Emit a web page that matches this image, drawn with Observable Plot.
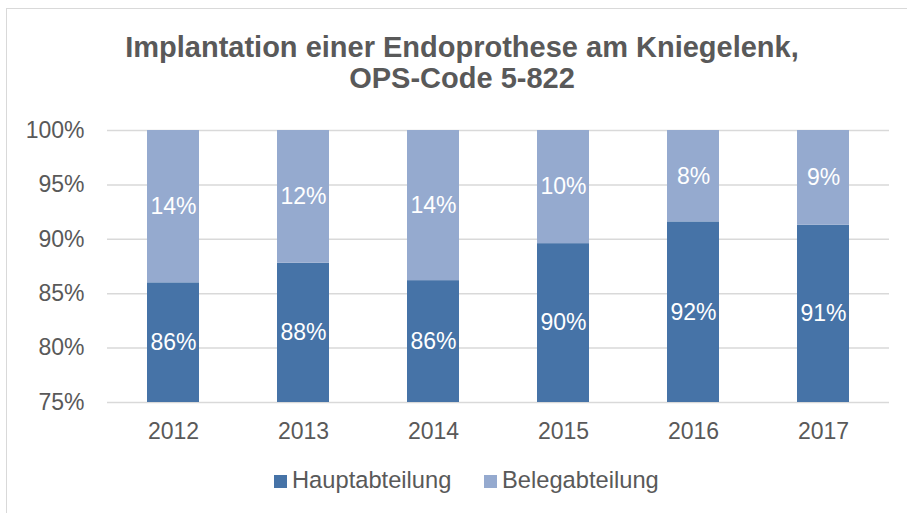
<!DOCTYPE html>
<html>
<head>
<meta charset="utf-8">
<script src="https://cdn.jsdelivr.net/npm/d3@7"></script>
<script src="https://cdn.jsdelivr.net/npm/@observablehq/plot@0.6"></script>
<style>
  html, body { margin: 0; padding: 0; background: #fff; overflow: hidden; }
  #wrap { position: relative; width: 907px; height: 513px; font-family: "Liberation Sans", Arial, sans-serif; }
  #frame { position: absolute; left: 6px; top: 8px; width: 920px; height: 520px; border-left: 1.5px solid #d9d9d9; border-top: 1.5px solid #d9d9d9; box-sizing: border-box; }
  #title { position: absolute; left: 16px; width: 892px; top: 32px; text-align: center; font-weight: bold; font-size: 29px; line-height: 31px; color: #595959; }
  #chart { position: absolute; left: 0; top: 110px; }
  #legend { position: absolute; top: 467px; left: 0; width: 907px; height: 30px; font-size: 23.7px; color: #595959; }
  .item { position: absolute; top: 0; white-space: nowrap; line-height: 26px; }
  .sw { display: inline-block; width: 13px; height: 13px; margin-right: 5px; vertical-align: 0px; }
</style>
</head>
<body>
<div id="wrap">
  <div id="frame"></div>
  <div id="title">Implantation einer Endoprothese am Kniegelenk,<br>OPS-Code 5-822</div>
  <div id="chart"></div>
  <div id="legend"></div>
</div>
<script>
const years = ["2012", "2013", "2014", "2015", "2016", "2017"];
const hauptabteilung = [86.0, 87.8, 86.2, 89.6, 91.6, 91.3];
const belegabteilung = [14.0, 12.2, 13.8, 10.4, 8.4, 8.7];
const hauptLabels = ["86%", "88%", "86%", "90%", "92%", "91%"];
const belegLabels = ["14%", "12%", "14%", "10%", "8%", "9%"];
const seriesNames = ["Hauptabteilung", "Belegabteilung"];
const seriesColors = ["#4673a7", "#95aacf"];
const yTicks = [75, 80, 85, 90, 95, 100];

const yMin = yTicks[0], yMax = yTicks[yTicks.length - 1];
const rows = [];
years.forEach((yr, i) => {
  rows.push({year: yr, series: seriesNames[0], lo: 0, hi: hauptabteilung[i],
             label: hauptLabels[i], ly: (yMin + hauptabteilung[i]) / 2});
  rows.push({year: yr, series: seriesNames[1], lo: hauptabteilung[i], hi: hauptabteilung[i] + belegabteilung[i],
             label: belegLabels[i], ly: (hauptabteilung[i] + Math.min(yMax, hauptabteilung[i] + belegabteilung[i])) / 2});
});

const chart = Plot.plot({
  width: 907,
  height: 340,
  marginTop: 20,
  marginBottom: 48,
  marginLeft: 107,
  marginRight: 18,
  style: {fontFamily: '"Liberation Sans", Arial, sans-serif', fontSize: "23px", color: "#595959", background: "transparent"},
  x: {domain: years, paddingInner: 0.6, paddingOuter: 0.3, label: null},
  y: {domain: [yMin, yMax], ticks: yTicks, label: null},
  color: {domain: seriesNames, range: seriesColors},
  marks: [
    Plot.gridY(yTicks, {stroke: "#d9d9d9", strokeOpacity: 1, strokeWidth: 1.5}),
    Plot.barY(rows, {x: "year", y1: "lo", y2: "hi", fill: "series", clip: true}),
    Plot.text(rows, {x: "year", y: "ly", text: "label", fill: "white", fontSize: 23}),
    Plot.axisY(yTicks, {tickSize: 0, tickPadding: 23, tickFormat: d => d + "%", fill: "#595959", fontSize: 23, label: null}),
    Plot.axisX({tickSize: 0, tickPadding: 20, fill: "#595959", fontSize: 23, label: null})
  ]
});
document.getElementById("chart").appendChild(chart);

const legend = document.getElementById("legend");
const legendX = [274, 484];
seriesNames.forEach((name, i) => {
  const item = document.createElement("div");
  item.className = "item";
  item.style.left = legendX[i] + "px";
  const sw = document.createElement("span");
  sw.className = "sw";
  sw.style.background = seriesColors[i];
  item.appendChild(sw);
  item.appendChild(document.createTextNode(name));
  legend.appendChild(item);
});
</script>
</body>
</html>
